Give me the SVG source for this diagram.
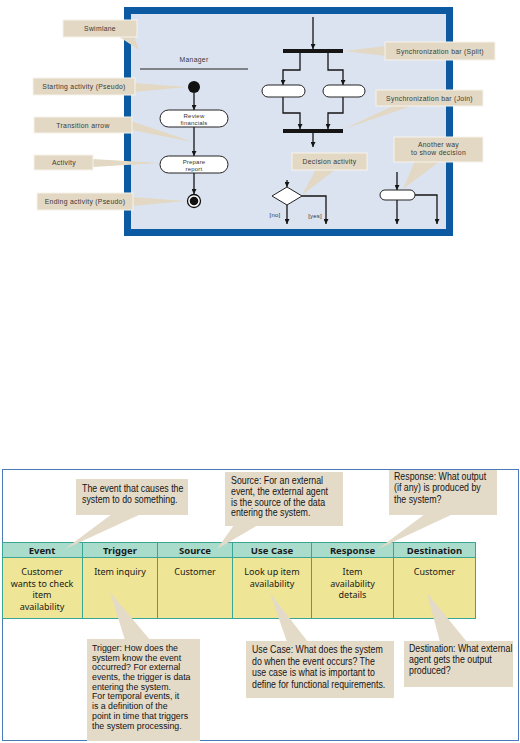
<svg xmlns="http://www.w3.org/2000/svg" width="520" height="743" viewBox="0 0 520 743">
<defs>
<style>
.tl{font-family:"Liberation Sans",Arial,sans-serif;font-size:6.8px;fill:#3a3a3a;letter-spacing:0.3px}
.tc{font-family:"Liberation Sans",Arial,sans-serif;font-size:6px;fill:#333;letter-spacing:0.2px}
.co{fill:#e2d8c3;stroke:#f7f4ec;stroke-width:1}
.ptr{fill:#e2d8c3}
.ln{fill:none;stroke:#151515;stroke-width:1.3}
.ar{fill:none;stroke:#151515;stroke-width:1.3;marker-end:url(#ah)}
.pill{fill:#fff;stroke:#222;stroke-width:1}
.bar{fill:#151515}
.bc{fill:#e4dac8}
.bt{font-family:"Liberation Sans",Arial,sans-serif;font-size:10.5px;fill:#141414}
.bts{font-family:"Liberation Sans",Arial,sans-serif;font-size:9.4px;fill:#141414}
.th{font-family:"Noto Sans",sans-serif;font-size:9.5px;font-weight:bold;fill:#1a1a1a;text-anchor:middle}
.td{font-family:"Noto Sans",sans-serif;font-size:9px;fill:#1a1a1a;text-anchor:middle}
.hd{fill:#aadccc;stroke:#3aa595;stroke-width:1}
.bd{fill:#eee596;stroke:#3aa595;stroke-width:1}
</style>
<marker id="ah" viewBox="0 0 6 6" refX="6" refY="3" markerWidth="5" markerHeight="5" markerUnits="userSpaceOnUse" orient="auto">
<path d="M0,0 L6,3 L0,6 z" fill="#151515"/>
</marker>
</defs>
<rect width="520" height="743" fill="#fff"/>

<!-- TOP: activity diagram -->
<g id="frame">
<rect x="127.5" y="10.5" width="322" height="222" fill="#dce3f0" stroke="#0b5aa2" stroke-width="7"/>
</g>
<g id="swimlane-manager">
<text class="tl" x="194" y="62" text-anchor="middle">Manager</text>
<line x1="140" y1="69" x2="248" y2="69" stroke="#222" stroke-width="1"/>
</g>

<g id="connectors">
<line class="ar" x1="194" y1="93" x2="194" y2="110"/>
<line class="ar" x1="194" y1="127" x2="194" y2="156"/>
<line class="ar" x1="194" y1="173" x2="194" y2="194"/>
<line class="ar" x1="313" y1="17" x2="313" y2="49"/>
<polyline class="ar" points="300,53 300,70 283,70 283,85"/>
<polyline class="ar" points="328,53 328,70 343,70 343,85"/>
<polyline class="ar" points="283,97 283,113 300,113 300,129"/>
<polyline class="ar" points="343,97 343,113 328,113 328,129"/>
<line class="ar" x1="313" y1="132" x2="313" y2="147"/>
<line class="ar" x1="287" y1="180" x2="287" y2="187"/>
<line class="ar" x1="287" y1="205" x2="287" y2="224"/>
<polyline class="ar" points="302,196 326,196 326,224"/>
<line class="ar" x1="397" y1="172" x2="397" y2="190"/>
<line class="ar" x1="397" y1="200" x2="397" y2="224"/>
<polyline class="ar" points="415,195 437,195 437,224"/>
</g>

<g id="start"><circle cx="194" cy="87" r="6" fill="#111"/></g>
<g id="review">
<rect class="pill" x="160" y="110" width="68" height="17" rx="8.5"/>
<text class="tc" x="194" y="117.5" text-anchor="middle">Review</text>
<text class="tc" x="194" y="124.5" text-anchor="middle">financials</text>
</g>
<g id="prepare">
<rect class="pill" x="160" y="156" width="68" height="17" rx="8.5"/>
<text class="tc" x="194" y="163.5" text-anchor="middle">Prepare</text>
<text class="tc" x="194" y="170.5" text-anchor="middle">report</text>
</g>
<g id="end">
<circle cx="194" cy="201" r="6.5" fill="#fff" stroke="#111" stroke-width="1.3"/>
<circle cx="194" cy="201" r="4.3" fill="#111"/>
</g>
<g id="split-bar"><rect class="bar" x="283" y="49" width="60" height="4"/></g>
<g id="act-left"><rect class="pill" x="262" y="85" width="43" height="12" rx="6"/></g>
<g id="act-right"><rect class="pill" x="323" y="85" width="42" height="12" rx="6"/></g>
<g id="join-bar"><rect class="bar" x="283" y="129" width="60" height="4"/></g>
<g id="decision">
<polygon points="287,187 302,196 287,205 272,196" fill="#fff" stroke="#222" stroke-width="1"/>
<text class="tc" x="275" y="217" text-anchor="middle">[no]</text>
<text class="tc" x="315" y="218" text-anchor="middle">[yes]</text>
</g>
<g id="decision-alt"><rect class="pill" x="380" y="190" width="35" height="10" rx="5"/></g>

<!-- top callouts -->
<g id="c-swimlane">
<polygon class="ptr" points="118,36 134,36 139,50"/>
<rect class="co" x="63" y="20" width="74" height="17"/>
<text class="tl" x="100" y="31" text-anchor="middle">Swimlane</text>
</g>
<g id="c-start">
<polygon class="ptr" points="134,83 134,92 187,87"/>
<rect class="co" x="33" y="78" width="102" height="17"/>
<text class="tl" x="84" y="89" text-anchor="middle">Starting activity (Pseudo)</text>
</g>
<g id="c-transition">
<polygon class="ptr" points="131,121 131,130 193,142"/>
<rect class="co" x="34" y="117" width="98" height="16"/>
<text class="tl" x="83" y="127.5" text-anchor="middle">Transition arrow</text>
</g>
<g id="c-activity">
<polygon class="ptr" points="92,159 92,167 160,163"/>
<rect class="co" x="34" y="155" width="59" height="15"/>
<text class="tl" x="64" y="165" text-anchor="middle">Activity</text>
</g>
<g id="c-ending">
<polygon class="ptr" points="132,197 132,206 186,201"/>
<rect class="co" x="37" y="193" width="96" height="17"/>
<text class="tl" x="85" y="204" text-anchor="middle">Ending activity (Pseudo)</text>
</g>
<g id="c-split">
<polygon class="ptr" points="386,46 386,56 344,51"/>
<rect class="co" x="385" y="42" width="110" height="18"/>
<text class="tl" x="440" y="53.5" text-anchor="middle">Synchronization bar (Split)</text>
</g>
<g id="c-join">
<polygon class="ptr" points="395,105 414,105 344,129"/>
<rect class="co" x="376" y="90" width="107" height="16"/>
<text class="tl" x="429.5" y="100.5" text-anchor="middle">Synchronization bar (Join)</text>
</g>
<g id="c-decision">
<polygon class="ptr" points="316,169 336,169 302,195"/>
<rect class="co" x="292" y="153" width="75" height="17"/>
<text class="tl" x="329.5" y="164" text-anchor="middle">Decision activity</text>
</g>
<g id="c-another">
<polygon class="ptr" points="415,161 440,161 403,189"/>
<rect class="co" x="394" y="137" width="89" height="25"/>
<text class="tl" x="438.5" y="147" text-anchor="middle">Another way</text>
<text class="tl" x="438.5" y="155" text-anchor="middle">to show decision</text>
</g>

<!-- BOTTOM: event table -->
<g id="outer-frame">
<rect x="2.5" y="469.5" width="516" height="271" fill="#fff" stroke="#4a7ab8" stroke-width="1"/>
</g>
<g id="table">
<rect class="hd" x="2.5" y="542.5" width="473" height="15"/>
<rect class="bd" x="2.5" y="557.5" width="473" height="61"/>
<g stroke="#3aa595" stroke-width="1">
<line x1="82.5" y1="542.5" x2="82.5" y2="618.5"/>
<line x1="157.5" y1="542.5" x2="157.5" y2="618.5"/>
<line x1="232.5" y1="542.5" x2="232.5" y2="618.5"/>
<line x1="311.5" y1="542.5" x2="311.5" y2="618.5"/>
<line x1="393.5" y1="542.5" x2="393.5" y2="618.5"/>
</g>
<text class="th" x="42" y="553.5">Event</text>
<text class="th" x="120" y="553.5">Trigger</text>
<text class="th" x="195" y="553.5">Source</text>
<text class="th" x="272" y="553.5">Use Case</text>
<text class="th" x="352.5" y="553.5">Response</text>
<text class="th" x="434.5" y="553.5">Destination</text>
<text class="td" x="42" y="575">Customer</text>
<text class="td" x="42" y="586.5">wants to check</text>
<text class="td" x="42" y="598">item</text>
<text class="td" x="42" y="609.5">availability</text>
<text class="td" x="120" y="575">Item inquiry</text>
<text class="td" x="195" y="575">Customer</text>
<text class="td" x="272" y="575">Look up item</text>
<text class="td" x="272" y="586.5">availability</text>
<text class="td" x="352.5" y="575">Item</text>
<text class="td" x="352.5" y="586.5">availability</text>
<text class="td" x="352.5" y="598">details</text>
<text class="td" x="434.5" y="575">Customer</text>
</g>

<g id="c-event">
<polygon class="bc" points="112,514 141,514 65,549"/>
<rect class="bc" x="76" y="479" width="112" height="36"/>
<text class="bt" transform="translate(82,0) scale(0.84,1)"><tspan x="0" y="492">The event that causes the</tspan><tspan x="0" y="502.7">system to do something.</tspan></text>
</g>
<g id="c-source">
<polygon class="bc" points="234,525 258,525 217,549"/>
<rect class="bc" x="225" y="472" width="118" height="54"/>
<text class="bt" transform="translate(231,0) scale(0.84,1)"><tspan x="0" y="484">Source: For an external</tspan><tspan x="0" y="494.8">event, the external agent</tspan><tspan x="0" y="505.6">is the source of the data</tspan><tspan x="0" y="516.4">entering the system.</tspan></text>
</g>
<g id="c-response">
<polygon class="bc" points="425,514 453,514 378,549"/>
<rect class="bc" x="389" y="470" width="108" height="45"/>
<text class="bt" transform="translate(394,0) scale(0.84,1)"><tspan x="0" y="480">Response: What output</tspan><tspan x="0" y="491.3">(if any) is produced by</tspan><tspan x="0" y="502.6">the system?</tspan></text>
</g>
<g id="c-trigger">
<polygon class="bc" points="110,592 125,640 150,640"/>
<rect class="bc" x="87" y="639" width="113" height="102"/>
<text class="bts" transform="translate(92,0) scale(0.935,1)"><tspan x="0" y="651">Trigger: How does the</tspan><tspan x="0" y="660.7">system know the event</tspan><tspan x="0" y="670.4">occurred? For external</tspan><tspan x="0" y="680.1">events, the trigger is data</tspan><tspan x="0" y="689.8">entering the system.</tspan><tspan x="0" y="699.5">For temporal events, it</tspan><tspan x="0" y="709.2">is a definition of the</tspan><tspan x="0" y="718.9">point in time that triggers</tspan><tspan x="0" y="728.6">the system processing.</tspan></text>
</g>
<g id="c-usecase">
<polygon class="bc" points="270,593 287,642 308,642"/>
<rect class="bc" x="246" y="641" width="148" height="57"/>
<text class="bt" transform="translate(252,0) scale(0.84,1)"><tspan x="0" y="653">Use Case: What does the system</tspan><tspan x="0" y="664.7">do when the event occurs? The</tspan><tspan x="0" y="676.4">use case is what is important to</tspan><tspan x="0" y="688.1">define for functional requirements.</tspan></text>
</g>
<g id="c-destination">
<polygon class="bc" points="427,593 440,642 467,642"/>
<rect class="bc" x="404" y="641" width="109" height="46"/>
<text class="bt" transform="translate(409,0) scale(0.84,1)"><tspan x="0" y="652.5">Destination: What external</tspan><tspan x="0" y="663.5">agent gets the output</tspan><tspan x="0" y="674.5">produced?</tspan></text>
</g>
</svg>
